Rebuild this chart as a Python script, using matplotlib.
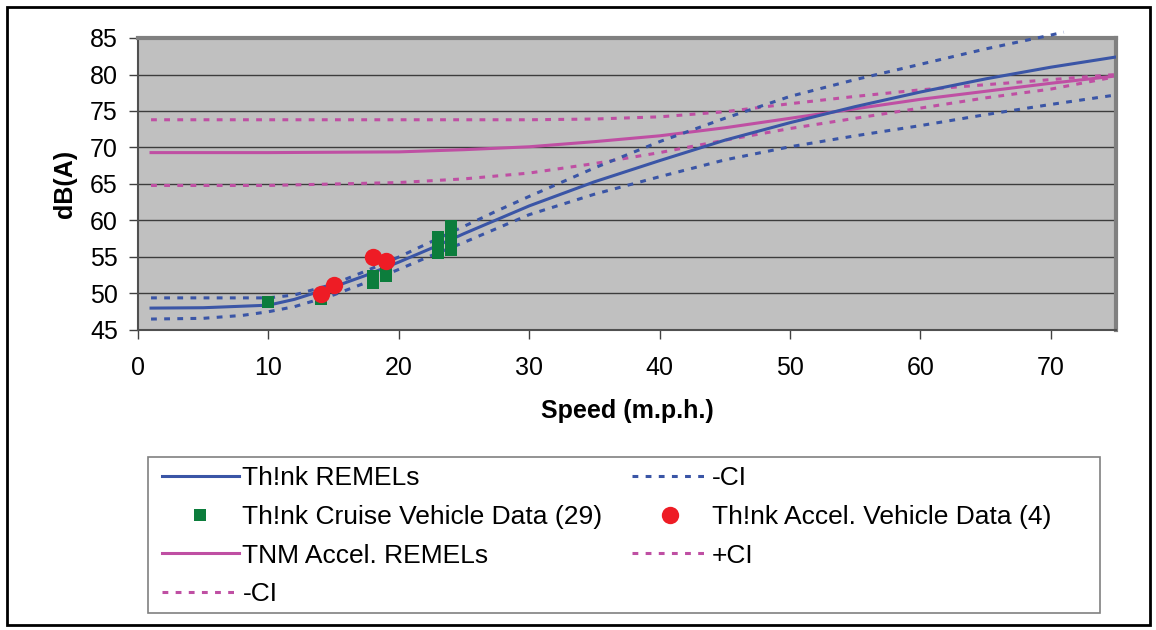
import matplotlib
matplotlib.use("Agg")
import matplotlib.pyplot as plt
from matplotlib.patches import Rectangle

plt.rcParams["font.family"] = ["Liberation Sans", "DejaVu Sans"]

# Th!nk REMELs and confidence band
think_speed = [1, 5, 10, 12, 15, 17.5, 20, 22.5, 25, 27.5, 30, 35, 40, 45, 50, 55, 60, 65, 70, 75]
think_db = [48.0, 48.05, 48.4, 49.2, 50.9, 52.5, 54.3, 56.2, 58.2, 60.1, 62.0, 65.3, 68.2, 71.0, 73.4, 75.6, 77.6, 79.4, 81.0, 82.4]

think_up_speed = [1, 5, 10, 12, 15, 17.5, 20, 22.5, 25, 27.5, 30, 35, 40, 45, 50, 55, 60, 65, 70, 71]
think_up_db = [49.4, 49.4, 49.4, 49.8, 51.3, 53.1, 55.0, 57.1, 59.2, 61.3, 63.3, 67.2, 70.8, 74.0, 77.0, 79.3, 81.4, 83.5, 85.4, 85.8]

think_lo_speed = [1, 5, 8, 10, 12, 15, 17.5, 20, 22.5, 25, 27.5, 30, 35, 40, 45, 50, 55, 60, 65, 70, 75]
think_lo_db = [46.5, 46.6, 47.0, 47.5, 48.2, 49.8, 51.5, 53.3, 55.2, 57.0, 58.9, 60.8, 63.6, 66.0, 68.3, 70.1, 71.6, 73.0, 74.5, 75.9, 77.2]

# TNM Accel. REMELs and confidence band
tnm_speed = [1, 10, 20, 25, 30, 35, 40, 45, 50, 55, 60, 65, 70, 75]
tnm_db = [69.3, 69.3, 69.4, 69.7, 70.1, 70.8, 71.6, 72.7, 74.0, 75.3, 76.6, 77.7, 78.8, 79.8]
tnm_up_db = [73.8, 73.8, 73.8, 73.8, 73.8, 73.9, 74.2, 74.9, 76.0, 77.0, 77.9, 78.6, 79.3, 80.0]
tnm_lo_db = [64.8, 64.8, 65.2, 65.7, 66.5, 67.8, 69.3, 71.0, 72.6, 74.0, 75.4, 76.8, 78.0, 79.7]

# measured vehicles
cruise_speed = [10, 14, 14, 18, 18, 18, 18, 19, 19, 19, 19,
                23, 23, 23, 23, 23, 23, 23, 23, 23,
                24, 24, 24, 24, 24, 24, 24, 24, 24]
cruise_db = [48.8, 49.2, 49.5, 51.4, 51.7, 52.1, 52.4, 52.4, 52.8, 53.1, 53.5,
             55.6, 55.9, 56.2, 56.5, 56.8, 57.1, 57.4, 57.6, 57.8,
             55.9, 56.3, 56.8, 57.2, 57.6, 58.0, 58.4, 58.9, 59.3]

accel_speed = [14, 15, 18, 19]
accel_db = [49.9, 51.2, 55.0, 54.5]

blue = "#3A55A6"
pink = "#BF4FA3"
green = "#0C7D3C"
red = "#EE1C25"
dots = (0, (1.9, 2.4))

fig = plt.figure(figsize=(11.56, 6.3), dpi=100)
ax = fig.add_axes([138 / 1156, 1 - 330 / 630, (1116 - 138) / 1156, 292 / 630])
ax.set_facecolor("#C0C0C0")

for y in range(50, 85, 5):
    ax.axhline(y, color="#3C3C3C", lw=1.0, zorder=1)

h_think, = ax.plot(think_speed, think_db, color=blue, lw=2.2, zorder=3)
h_think_up, = ax.plot(think_up_speed, think_up_db, color=blue, lw=2.2, ls=dots, zorder=3, clip_on=False)
h_think_lo, = ax.plot(think_lo_speed, think_lo_db, color=blue, lw=2.2, ls=dots, zorder=3)
h_tnm, = ax.plot(tnm_speed, tnm_db, color=pink, lw=2.2, zorder=2)
h_tnm_up, = ax.plot(tnm_speed, tnm_up_db, color=pink, lw=2.2, ls=dots, zorder=2)
h_tnm_lo, = ax.plot(tnm_speed, tnm_lo_db, color=pink, lw=2.2, ls=dots, zorder=2)
h_cruise, = ax.plot(cruise_speed, cruise_db, ls="none", marker="s", ms=8.6, mew=0, color=green, zorder=4)
h_accel, = ax.plot(accel_speed, accel_db, ls="none", marker="o", ms=12.5, mew=0, color=red, zorder=5)

ax.set_xlim(0, 75)
ax.set_ylim(45, 85)
ax.set_xticks(range(0, 80, 10))
ax.set_yticks(range(45, 90, 5))
ax.tick_params(axis="both", labelsize=18, length=6.5, width=1, color="#404040")
ax.tick_params(axis="x", pad=12)
ax.tick_params(axis="y", pad=8)

for side in ["left", "bottom"]:
    ax.spines[side].set_color("#505050")
    ax.spines[side].set_linewidth(1.5)
for side in ["top", "right"]:
    ax.spines[side].set_color("#808080")
    ax.spines[side].set_linewidth(3)

ax.set_xlabel("Speed (m.p.h.)", fontsize=18, fontweight="bold", labelpad=14)
ax.set_ylabel("dB(A)", fontsize=18, fontweight="bold", labelpad=9)

# legend, filled column by column like the original
handles = [h_think, h_cruise, h_tnm, h_tnm_lo, h_think_lo, h_accel, h_tnm_up]
labels = ["Th!nk REMELs", "Th!nk Cruise Vehicle Data (29)", "TNM Accel. REMELs", "-CI",
          "-CI", "Th!nk Accel. Vehicle Data (4)", "+CI"]
fig.legend(handles, labels, loc="upper left", bbox_to_anchor=(162 / 1156, 1 - 466 / 630),
           ncol=2, frameon=False, fontsize=19, handlelength=2.9, handletextpad=0.15,
           columnspacing=1.1, labelspacing=0.56, borderpad=0, borderaxespad=0, numpoints=1)

fig.patches.append(Rectangle((148 / 1156, 1 - 613 / 630), 952 / 1156, 156 / 630,
                             transform=fig.transFigure, fill=False, ec="#808080", lw=1.2))
fig.patches.append(Rectangle((7 / 1156, 1 - 625 / 630), 1143 / 1156, 618 / 630,
                             transform=fig.transFigure, fill=False, ec="black", lw=2))

fig.savefig("out.png", dpi=100)
